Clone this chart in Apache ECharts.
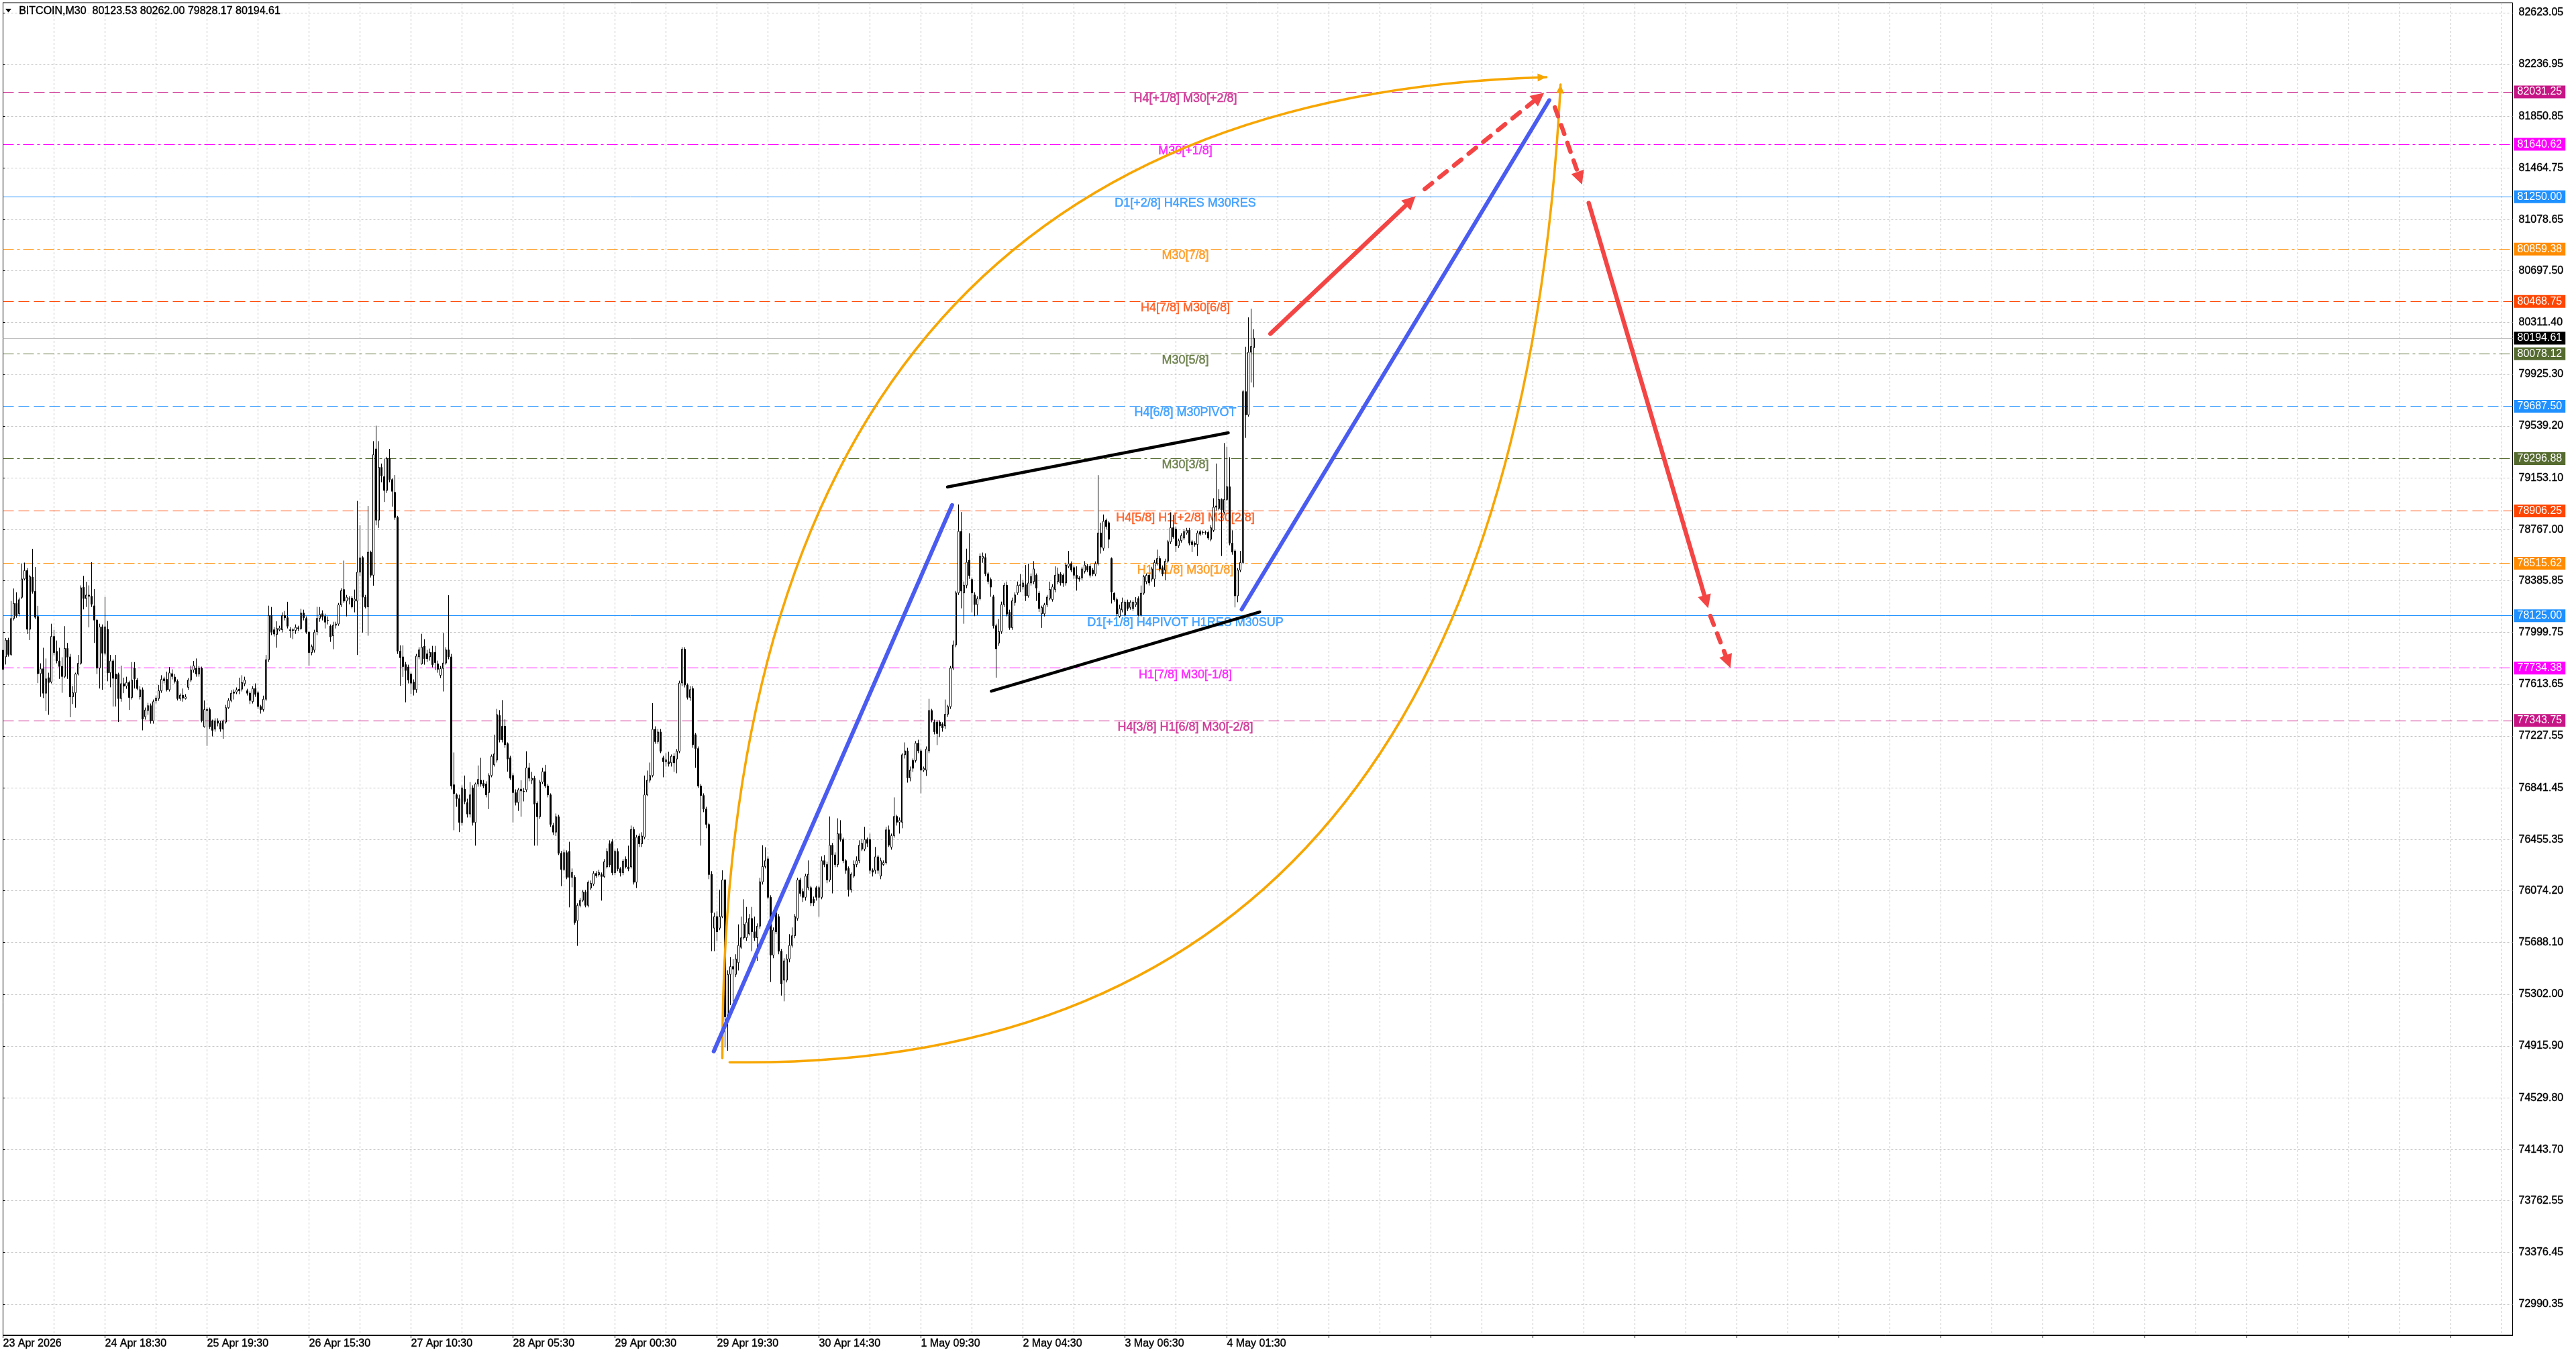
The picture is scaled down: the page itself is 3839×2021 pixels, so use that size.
<!DOCTYPE html>
<html>
<head>
<meta charset="utf-8">
<title>BITCOIN,M30</title>
<script src="https://cdn.jsdelivr.net/npm/echarts@6/dist/echarts.min.js"></script>
<style>
html, body { margin: 0; padding: 0; background: #fff; }
#chart { width: 3839px; height: 2021px; }
</style>
</head>
<body>
<div id="chart"></div>
<script>
// M30 bars, [open, close, low, high]
var candles = [
[77868,77725,77654,78083],[77818,77943,77761,77958],[77943,77836,77820,77960],[77836,78104,77825,78235],[78104,78217,78090,78328],
[78217,78127,78110,78300],[78140,78244,78120,78260],[78262,78399,78250,78515],[78399,78462,78390,78521],[78462,78024,77988,78480],
[78024,78417,77943,78430],[78413,78306,78290,78624],[78306,78113,78100,78488],[78119,77693,77622,78199],[77693,77729,77520,77770],
[77729,77547,77511,77886],[77547,77654,77413,77806],[77663,77627,77386,77700],[77631,77970,77620,78065],[77970,77850,77830,78020],
[77859,77788,77770,77940],[77788,77747,77654,77886],[77747,77672,77550,77815],[77672,77881,77660,78047],[77881,77815,77654,77922],
[77818,77520,77368,77840],[77520,77550,77466,77600],[77550,77690,77439,77700],[77690,77770,77680,77833],[77770,78333,77760,78351],
[78337,78253,78172,78422],[78253,78279,78190,78378],[78279,78270,78038,78351],[78270,78211,78190,78524],[78199,78092,77922,78324],
[78092,77734,77690,78100],[77734,78042,77582,78065],[78042,77845,77573,78060],[77845,78042,77830,78265],[78024,77699,77636,78086],
[77699,77788,77591,77833],[77788,77658,77448,77800],[77690,77654,77448,77833],[77686,77507,77332,77700],[77507,77618,77484,77752],
[77618,77600,77547,77663],[77600,77627,77580,77670],[77627,77515,77422,77640],[77515,77645,77500,77779],[77734,77654,77582,77779],
[77645,77582,77570,77660],[77520,77573,77500,77600],[77573,77354,77270,77590],[77372,77422,77350,77440],[77418,77454,77386,77475],
[77454,77341,77320,77470],[77341,77484,77320,77500],[77490,77511,77470,77530],[77507,77565,77490,77609],[77565,77650,77550,77681],
[77654,77641,77620,77670],[77650,77573,77560,77708],[77573,77699,77560,77743],[77693,77672,77650,77725],[77668,77636,77620,77690],
[77636,77507,77493,77650],[77507,77532,77490,77545],[77532,77511,77484,77582],[77507,77520,77500,77540],[77591,77645,77573,77660],
[77645,77720,77630,77752],[77720,77752,77700,77788],[77734,77690,77670,77806],[77690,77734,77670,77750],[77734,77341,77330,77745],
[77297,77425,77290,77493],[77425,77418,77154,77440],[77425,77297,77280,77440],[77341,77270,77225,77350],[77279,77341,77260,77360],
[77341,77323,77300,77360],[77323,77279,77260,77340],[77279,77341,77207,77350],[77332,77439,77320,77460],[77439,77493,77430,77510],
[77493,77547,77480,77570],[77556,77547,77500,77575],[77556,77573,77540,77590],[77577,77565,77540,77663],[77577,77627,77560,77681],
[77618,77645,77600,77670],[77565,77547,77530,77580],[77547,77493,77466,77560],[77484,77582,77470,77600],[77582,77538,77520,77620],
[77550,77448,77430,77565],[77448,77425,77395,77460],[77425,77502,77410,77529],[77502,77797,77490,77833],[77797,78127,77780,78200],
[78127,78002,77980,78190],[78020,77988,77970,78040],[77985,78029,77886,78083],[78020,78033,78010,78050],[78020,78127,78000,78150],
[78127,78110,78090,78160],[78110,78047,78030,78229],[78020,78015,77960,78040],[78020,78015,77950,78030],[78015,78038,77990,78060],
[78035,78029,78010,78050],[78029,78145,78020,78176],[78145,78110,78090,78170],[78104,78002,77990,78120],[78002,77850,77752,78010],
[77850,77895,77830,77910],[77868,78002,77850,78020],[78005,78105,77980,78191],[78105,78134,78080,78190],[78140,78117,78090,78165],
[78120,78077,78030,78140],[78090,78092,78060,78120],[78048,77967,77930,78060],[77976,78054,77875,78080],[78054,78063,78030,78080],
[78063,78206,78050,78220],[78206,78312,78190,78330],[78320,78234,78220,78536],[78234,78263,78120,78280],[78250,78249,78210,78270],
[78255,78191,78180,78270],[78234,78249,78150,78320],[78234,78450,77832,78981],[78450,78556,78420,78800],[78559,78263,77999,78570],
[78263,78191,78180,78280],[78191,78599,77976,78944],[78599,78427,78410,78610],[78427,79326,78349,79427],[79369,78838,78800,79542],
[78838,79231,78780,79427],[79231,79168,79120,79260],[79162,79059,78973,79297],[79059,79297,79040,79310],[79297,79140,79120,79369],
[79140,79053,78938,79150],[79045,78858,78840,79174],[78858,77861,77840,78870],[77861,77812,77602,77904],[77818,77746,77668,77904],
[77760,77717,77479,77780],[77743,77645,77620,77760],[77689,77622,77540,77700],[77631,77574,77530,77650],[77574,77824,77550,77840],
[77818,77870,77800,77890],[77766,77890,77760,77990],[77898,77804,77760,77950],[77841,77804,77780,77870],[77818,77852,77790,77880],
[77852,77760,77740,77900],[77852,77775,77720,77900],[77766,77726,77700,77790],[77680,77731,77660,77750],[77732,77772,77560,77996],
[77772,77870,77760,77890],[77870,77818,77800,78278],[77818,76855,76830,77840],[76864,76798,76525,77105],[76789,76761,76700,76800],
[76761,76583,76511,76790],[76583,76841,76560,76860],[76832,76740,76720,76933],[76732,76646,76620,76760],[76646,76789,76620,76884],
[76841,76583,76560,76860],[76583,76870,76410,76880],[76870,76904,76850,77008],[76898,76870,76850,77065],[76875,76855,76840,76900],
[76870,76789,76770,76890],[76806,76933,76683,76950],[76933,77077,76920,77090],[77013,77094,77000,77238],[77048,77387,77030,77430],
[77381,77200,77180,77421],[77300,77200,77180,77496],[77300,77163,77140,77352],[77171,77056,76962,77180],[77065,76913,76900,77080],
[76933,76806,76583,76950],[76806,76732,76710,76830],[76732,76827,76669,76840],[76832,76818,76626,76898],[76815,76812,76740,76840],
[76827,76990,76810,77114],[76990,76913,76890,77028],[76898,76913,76870,76960],[76913,76720,76410,76930],[76726,76626,76410,76740],
[76626,76884,76610,76900],[76884,76962,76870,76990],[76962,76855,76840,77013],[76855,76789,76770,76870],[76789,76568,76550,76800],
[76560,76511,76490,76580],[76511,76626,76482,76650],[76626,76353,76340,76640],[76353,76232,76108,76370],[76232,76358,76220,76380],
[76358,76174,76160,76375],[76367,76174,75950,76439],[76174,76210,76100,76240],[76174,75836,75820,76190],[75850,75965,75663,75980],
[75965,76002,75950,76020],[76002,76065,75990,76080],[76065,75965,75950,76080],[75965,76137,75950,76150],[76094,76129,76080,76150],
[76123,76203,76110,76220],[76203,76186,76170,76220],[76194,76209,76180,76230],[76194,76180,76000,76210],[76180,76290,76170,76310],
[76252,76367,76240,76390],[76424,76267,76250,76450],[76439,76209,76190,76460],[76209,76367,76190,76380],[76367,76238,76220,76390],
[76238,76209,76180,76250],[76209,76295,76190,76310],[76310,76252,76240,76330],[76252,76238,76220,76410],[76252,76531,76240,76560],
[76531,76137,76120,76550],[76137,76473,76094,76490],[76482,76424,76400,76500],[76424,76482,76400,76510],[76473,76789,76460,76933],
[76789,76898,76780,76970],[76898,76933,76880,77030],[76933,77278,76920,77473],[77278,77186,77170,77300],[77186,77258,77170,77280],
[77258,77114,77100,77280],[77065,77036,76920,77080],[77036,77050,77000,77100],[77036,77019,77000,77110],[77028,77077,77000,77090],
[77077,77028,76960,77100],[77056,77114,76950,77130],[77114,77623,77100,77640],[77623,77875,77600,77890],[77875,77608,77590,77890],
[77608,77516,77500,77620],[77516,77574,77490,77600],[77582,77163,77140,77600],[77238,77134,76990,77250],[77134,76855,76840,77150],
[76855,76784,76410,76870],[76784,76683,76660,76800],[76683,76568,76540,76700],[76568,76195,76160,76580],[76197,75910,75623,76220],
[75795,75881,75623,75910],[75881,75768,75700,75920],[75795,75881,75780,76082],[75881,76154,75870,76226],[76154,75134,74905,76160],
[75134,75450,74880,75480],[75450,75508,75221,75580],[75508,75490,75249,75565],[75450,75565,75430,75600],[75537,75666,75479,75823],
[75652,75723,75640,75881],[75723,75823,75710,76010],[75723,75838,75700,75953],[75752,75867,75740,75900],[75867,75768,75623,75953],
[75768,75723,75700,75881],[75723,75810,75551,75830],[75810,76140,75790,76170],[76140,76255,76120,76413],[76255,76298,76240,76398],
[76312,76025,76010,76330],[76025,75594,75393,76040],[75594,75781,75570,75800],[75910,75768,75750,75930],[75881,75623,75600,75900],
[75623,75379,75292,75640],[75407,75551,75249,75570],[75407,75565,75390,75600],[75565,75666,75540,75750],[75666,75738,75650,75800],
[75738,75881,75720,75900],[75867,76154,75850,76170],[76154,76054,76030,76170],[76068,76025,75990,76090],[76025,76183,76000,76200],
[76097,76197,76080,76300],[76097,75982,75960,76110],[76010,75982,75960,76030],[76097,76025,76000,76110],[76025,76097,75880,76110],
[76025,76298,76010,76330],[76298,76269,76250,76340],[76269,76154,76130,76290],[76154,76413,76140,76628],[76413,76341,76054,76430],
[76341,76269,76250,76360],[76269,76499,76250,76614],[76499,76456,76440,76600],[76456,76298,76280,76470],[76298,76226,76200,76310],
[76240,76082,76030,76255],[76082,76197,76060,76210],[76183,76269,76170,76300],[76269,76298,76250,76330],[76298,76413,76280,76450],
[76384,76427,76370,76460],[76384,76456,76370,76550],[76456,76427,76400,76470],[76456,76226,76200,76500],[76226,76212,76180,76240],
[76226,76327,76200,76400],[76327,76226,76200,76340],[76183,76298,76160,76320],[76269,76284,76260,76300],[76284,76528,76270,76550],
[76528,76413,76400,76560],[76398,76485,76380,76500],[76485,76628,76470,76770],[76628,76585,76560,76640],[76585,76600,76500,76620],
[76585,77088,76540,77100],[77088,77117,77060,77180],[77117,76916,76880,77140],[76916,76973,76890,77000],[77045,76987,76960,77060],
[77045,77174,77030,77190],[77174,77117,77100,77200],[77117,76973,76800,77130],[76973,76987,76960,77000],[76973,77131,76930,77150],
[77117,77418,77100,77505],[77418,77347,77330,77430],[77332,77260,77240,77350],[77332,77246,77160,77345],[77332,77303,77220,77345],
[77318,77289,77260,77330],[77303,77390,77280,77500],[77390,77447,77370,77460],[77447,77734,77430,77750],[77734,77907,77720,77940],
[77907,78295,77890,78310],[78295,78754,78280,78955],[78754,78309,78180,78898],[78295,78352,78065,78380],[78352,78524,78330,78625],
[78539,78424,78400,78740],[78395,78295,78150,78410],[78280,78208,78122,78300],[78208,78252,78130,78270],[78252,78568,78240,78590],
[78553,78568,78520,78596],[78559,78438,78420,78590],[78438,78381,78360,78450],[78395,78338,78266,78410],[78266,78050,78030,78280],
[78050,77878,77663,78065],[77921,78007,77900,78100],[78007,78208,77990,78230],[78208,78352,78190,78370],[78352,78137,78120,78380],
[78151,78036,78020,78170],[78036,78237,78020,78260],[78223,78280,78200,78300],[78295,78352,78280,78380],[78350,78356,78302,78436],
[78340,78369,78320,78390],[78356,78273,78235,78503],[78273,78369,78260,78513],[78369,78417,78350,78440],[78379,78474,78360,78532],
[78427,78331,78235,78440],[78293,78178,78153,78310],[78139,78187,78034,78200],[78139,78207,78120,78220],[78207,78264,78190,78280],
[78254,78321,78240,78379],[78245,78340,78230,78360],[78321,78427,78300,78493],[78379,78436,78360,78484],[78436,78369,78350,78450],
[78427,78369,78340,78440],[78369,78503,78350,78520],[78493,78513,78480,78608],[78513,78465,78450,78530],[78484,78427,78400,78500],
[78427,78402,78312,78493],[78407,78398,78380,78420],[78407,78474,78390,78490],[78455,78503,78440,78532],[78493,78465,78450,78510],
[78493,78427,78410,78510],[78465,78436,78420,78480],[78436,78513,78420,78530],[78513,78742,78500,79173],[78742,78637,78589,78819],
[78628,78829,78610,78880],[78838,78790,78770,78850],[78819,78695,78628,78830],[78551,78302,78216,78560],[78293,78245,78230,78300],
[78245,78139,78120,78260],[78120,78178,78110,78207],[78168,78226,78150,78260],[78130,78226,78120,78240],[78226,78178,78160,78245],
[78187,78226,78170,78240],[78178,78226,78160,78240],[78207,78226,78190,78264],[78254,78130,78120,78270],[78130,78293,78120,78350],
[78293,78417,78280,78430],[78379,78427,78360,78440],[78427,78369,78350,78440],[78398,78474,78380,78490],[78398,78522,78340,78540],
[78513,78551,78500,78618],[78551,78474,78460,78570],[78484,78436,78420,78500],[78465,78532,78388,78550],[78532,78676,78520,78690],
[78676,78781,78660,78896],[78781,78714,78700,78877],[78771,78647,78599,78790],[78647,78685,78630,78700],[78685,78723,78670,78740],
[78704,78752,78690,78770],[78742,78762,78730,78780],[78762,78666,78650,78780],[78676,78656,78599,78690],[78666,78656,78640,78680],
[78656,78742,78570,78760],[78752,78733,78720,78765],[78746,78748,78730,78760],[78746,78748,78730,78760],[78746,78704,78690,78760],
[78695,78781,78680,78800],[78762,78934,78750,79001],[78944,78934,78910,79260],[78925,78992,78910,79068],[78992,78915,78570,79000],
[78896,78992,78880,79413],[78992,79087,78980,79384],[79087,78666,78650,79307],[78666,78599,78580,78762],[78608,78273,78187,78620],
[78273,78465,78226,78480],[78465,78522,78450,78608],[78522,79796,78510,79810],[79796,79623,79451,80131],[79623,80090,79610,80350],
[80090,80133,79864,80415],[80123.53,80194.61,79828.17,80262.00]
];

var slotCount = 936;           // bar slots across the window, incl. empty future area
var categories = [];
for (var i = 0; i < slotCount; i++) categories.push(String(i));

var xLabels = ['23 Apr 2026', '24 Apr 18:30', '25 Apr 19:30', '26 Apr 15:30', '27 Apr 10:30',
  '28 Apr 05:30', '29 Apr 00:30', '29 Apr 19:30', '30 Apr 14:30', '1 May 09:30',
  '2 May 04:30', '3 May 06:30', '4 May 01:30'];

var yTicks = [82623.05, 82236.95, 81850.85, 81464.75, 81078.65, 80697.50, 80311.40, 79925.30,
  79539.20, 79153.10, 78767.00, 78385.85, 77999.75, 77613.65, 77227.55, 76841.45, 76455.35,
  76074.20, 75688.10, 75302.00, 74915.90, 74529.80, 74143.70, 73762.55, 73376.45, 72990.35];
var yMin = 72759, yMax = 82697;

var levelPrices = [82031.25, 81640.62, 81250.00, 80859.38, 80468.75, 80078.12, 79687.50,
  79296.88, 78906.25, 78515.62, 78125.00, 77734.38, 77343.75];
var levelNames = ['H4[+1/8] M30[+2/8]', 'M30[+1/8]', 'D1[+2/8] H4RES M30RES', 'M30[7/8]',
  'H4[7/8] M30[6/8]', 'M30[5/8]', 'H4[6/8] M30PIVOT', 'M30[3/8]', 'H4[5/8] H1[+2/8] M30[2/8]',
  'H1[+1/8] M30[1/8]', 'D1[+1/8] H4PIVOT H1RES M30SUP', 'H1[7/8] M30[-1/8]', 'H4[3/8] H1[6/8] M30[-2/8]'];
var levelColors = ['#C71585', '#FF00FF', '#1E90FF', '#FF8C00', '#FF4500', '#556B2F', '#1E90FF',
  '#556B2F', '#FF4500', '#FF8C00', '#1E90FF', '#FF00FF', '#C71585'];
var levelKinds = ['dash', 'dashdot', 'solid', 'dashdot', 'dash', 'dashdot', 'dash',
  'dashdot', 'dash', 'dashdot', 'solid', 'dashdot', 'dash'];
var bidPrice = 80194.61;

// hand drawn objects, [bar, price] pairs
var blueLines = [[264.8, 74876, 353.6, 78950], [461.5, 78172, 576.1, 81970]];
var blackLines = [[351.9, 79085, 456.5, 79489], [368.2, 77562, 468.2, 78153]];
var redSolid = [[472.2, 80228, 526.3, 81254], [590.8, 81203, 635.3, 78181]];
var redDashed = [[529.7, 81307, 574.2, 82025], [578.2, 81916, 588.3, 81341], [636.1, 78123, 643.6, 77736]];
var orangeArcs = [[268, 74826, 268, 81966, 575, 82141], [270.7, 74795, 561.5, 74710, 580.3, 82086]]; // start, control, end

var FONT = 'Liberation Sans';
var labelBar = 440.5;

var dashes = { dash: [16, 7], dashdot: [16, 5, 4, 5], solid: 'solid' };

function arrowHead(from, tip, len, half, color) {
  var dx = tip[0] - from[0], dy = tip[1] - from[1];
  var d = Math.sqrt(dx * dx + dy * dy) || 1;
  var ux = dx / d, uy = dy / d;
  var bx = tip[0] - ux * len, by = tip[1] - uy * len;
  return {
    type: 'polygon',
    shape: { points: [[tip[0], tip[1]], [bx - uy * half, by + ux * half], [bx + uy * half, by - ux * half]] },
    style: { fill: color }
  };
}

function segSeries(rows, color, width, dash, arrow) {
  return {
    type: 'custom', xAxisIndex: 1, yAxisIndex: 0, z: 5, silent: true,
    data: rows, encode: { x: [0, 2], y: [1, 3] },
    renderItem: function (params, api) {
      var a = api.coord([api.value(0), api.value(1)]);
      var b = api.coord([api.value(2), api.value(3)]);
      var end = b;
      var kids = [];
      if (arrow) {
        var dx = b[0] - a[0], dy = b[1] - a[1];
        var d = Math.sqrt(dx * dx + dy * dy) || 1;
        end = [b[0] - dx / d * arrow[0] * 0.7, b[1] - dy / d * arrow[0] * 0.7];
      }
      kids.push({
        type: 'line',
        shape: { x1: a[0], y1: a[1], x2: end[0], y2: end[1] },
        style: { stroke: color, lineWidth: width, lineDash: dash, lineCap: 'round' }
      });
      if (arrow) kids.push(arrowHead(a, b, arrow[0], arrow[1], color));
      return { type: 'group', children: kids };
    }
  };
}

function arcSeries(rows, color, width, arrow) {
  return {
    type: 'custom', xAxisIndex: 1, yAxisIndex: 0, z: 4, silent: true,
    data: rows, encode: { x: [0, 2, 4], y: [1, 3, 5] },
    renderItem: function (params, api) {
      var p0 = api.coord([api.value(0), api.value(1)]);
      var c = api.coord([api.value(2), api.value(3)]);
      var p2 = api.coord([api.value(4), api.value(5)]);
      return {
        type: 'group',
        children: [{
          type: 'bezierCurve',
          shape: { x1: p0[0], y1: p0[1], x2: p2[0], y2: p2[1], cpx1: c[0], cpy1: c[1] },
          style: { stroke: color, lineWidth: width, fill: 'none', lineCap: 'round' }
        }, arrowHead(c, p2, arrow[0], arrow[1], color)]
      };
    }
  };
}

var levelMarks = levelPrices.map(function (v, i) {
  return {
    yAxis: v,
    lineStyle: { color: levelColors[i], type: dashes[levelKinds[i]], width: 1 },
    label: { backgroundColor: levelColors[i], formatter: v.toFixed(2) }
  };
});
levelMarks.push({
  yAxis: bidPrice,
  lineStyle: { color: '#c0c0c0', type: 'solid', width: 1 },
  label: { backgroundColor: '#000', formatter: bidPrice.toFixed(2) }
});

var last = candles[candles.length - 1];
var headerText = 'BITCOIN,M30  ' + [last[0], last[3], last[2], last[1]].map(function (v) { return v.toFixed(2); }).join(' ');

var gridLine = { color: '#c4c4c4', type: [3, 3], width: 1 };

var chart = echarts.init(document.getElementById('chart'));
chart.setOption({
  animation: false,
  backgroundColor: '#fff',
  // 935 gaps * 4 px, half-pixel offset keeps 1px candle strokes crisp
  grid: { left: 4.5, right: 94.5, top: 4, bottom: 31, show: true, borderColor: '#000', borderWidth: 1 },
  xAxis: [{
    type: 'category', data: categories, boundaryGap: false,
    axisLine: { lineStyle: { color: '#000', width: 1 } },
    axisTick: { show: true, interval: 37, length: 4, lineStyle: { color: '#000' } },
    axisLabel: {
      interval: 37, align: 'left', margin: 5, color: '#000', fontFamily: FONT, fontSize: 16,
      textBorderColor: '#000', textBorderWidth: 0.4,
      formatter: function (v, idx) { return xLabels[idx / 38] || ''; }
    },
    splitLine: { show: true, interval: 18, lineStyle: gridLine }
  }, {
    type: 'value', min: 0, max: slotCount - 1, show: false
  }],
  yAxis: [{
    type: 'value', position: 'right', min: yMin, max: yMax, scale: true,
    axisLine: { show: true, lineStyle: { color: '#000', width: 1 } },
    axisTick: { show: true, customValues: yTicks, length: 3, lineStyle: { color: '#000' } },
    axisLabel: {
      customValues: yTicks, margin: 9, color: '#000', fontFamily: FONT, fontSize: 16,
      textBorderColor: '#000', textBorderWidth: 0.4,
      formatter: function (v) { return v.toFixed(2); }
    },
    splitLine: { show: true, lineStyle: gridLine }
  }],
  graphic: [
    { type: 'polygon', shape: { points: [[8, 13], [17, 13], [12.5, 18.5]] }, style: { fill: '#000' }, z: 10 },
    { type: 'text', left: 28, top: 8, z: 10,
      style: { text: headerText, font: '16px "Liberation Sans"', fill: '#000', stroke: '#000', lineWidth: 0.4 } }
  ],
  series: [{
    type: 'scatter', xAxisIndex: 1, yAxisIndex: 0, z: 1, silent: true,
    symbolSize: 0,
    data: levelPrices.map(function (v, i) {
      return { value: [labelBar, v], label: { color: levelColors[i], textBorderColor: levelColors[i], formatter: levelNames[i] } };
    }),
    label: { show: true, position: 'bottom', distance: 1, fontFamily: FONT, fontSize: 18, textBorderWidth: 0.5 }
  }, {
    type: 'candlestick', xAxisIndex: 0, yAxisIndex: 0, z: 3,
    data: candles, barWidth: 2,
    itemStyle: { color: '#fff', color0: '#000', borderColor: '#000', borderColor0: '#000', borderWidth: 1 },
    markLine: {
      silent: true, z: 1, symbol: ['none', 'none'], animation: false,
      label: {
        show: true, position: 'end', distance: 2, color: '#fff', fontFamily: FONT, fontSize: 16,
        lineHeight: 16, padding: [2, 5, 1, 5]
      },
      data: levelMarks
    }
  },
  arcSeries(orangeArcs, '#F7A600', 3.5, [13, 6]),
  segSeries(blueLines, '#4A5CF0', 6, null, null),
  segSeries(blackLines, '#000', 4.5, null, null),
  segSeries(redSolid, '#F44545', 6.5, null, [20, 10]),
  segSeries(redDashed, '#F44545', 6.5, [14, 14], [20, 10])
  ]
});
</script>
</body>
</html>
